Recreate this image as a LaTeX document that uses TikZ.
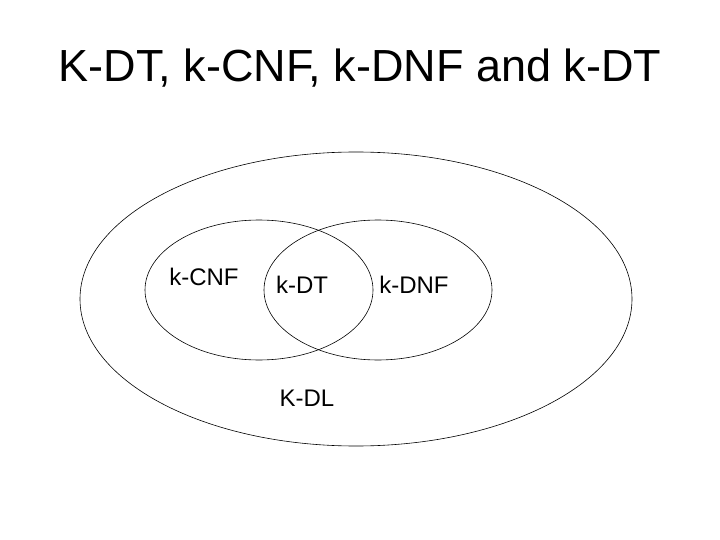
\documentclass[tikz,border=0pt]{standalone}
\usepackage{fontspec}
\setmainfont{Liberation Sans}
\begin{document}
\begin{tikzpicture}[x=1pt,y=-1pt,
  set/.style={draw=black,line width=0.6pt},
  lbl/.style={font=\fontsize{24}{28}\selectfont,inner sep=0pt}]
\useasboundingbox[fill=white] (0,0) rectangle (720,540);
\node[font=\fontsize{45}{52}\selectfont,inner sep=0pt] (title) at (360,68) {K-DT, k-CNF, k-DNF and k-DT};
\draw[set] (356,299) ellipse [x radius=276, y radius=147];
\draw[set] (259,290) ellipse [x radius=114, y radius=70];
\draw[set] (378,290) ellipse [x radius=114, y radius=70];
\node[lbl] (cnf) at (204,277) {k-CNF};
\node[lbl] (dt) at (302,285) {k-DT};
\node[lbl] (dnf) at (414,285) {k-DNF};
\node[lbl] (dl) at (307,398) {K-DL};
\end{tikzpicture}
\end{document}
